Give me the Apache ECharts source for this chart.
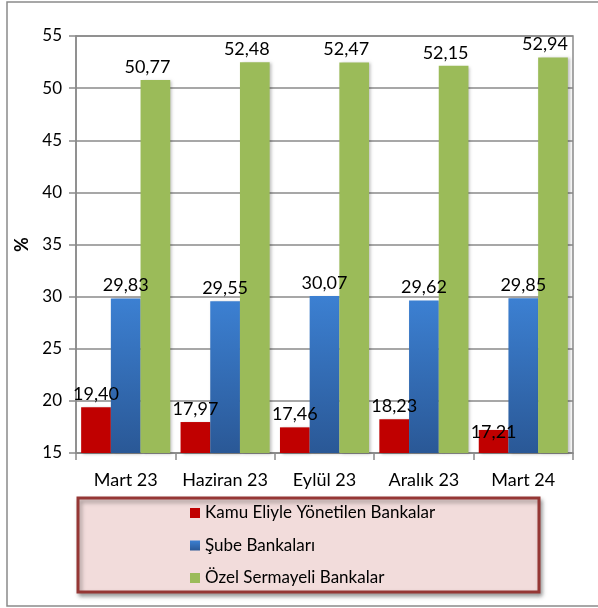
<!DOCTYPE html>
<html>
<head>
<meta charset="utf-8">
<script src="https://cdn.jsdelivr.net/npm/echarts@6/dist/echarts.min.js"></script>
<style>
  html, body { margin: 0; padding: 0; background: #fff; }
  #main { width: 598px; height: 608px; }
</style>
</head>
<body>
<div id="main"></div>
<script>
const categories = ['Mart 23', 'Haziran 23', 'Eylül 23', 'Aralık 23', 'Mart 24'];
const kamuValues = [19.40, 17.97, 17.46, 18.23, 17.21];
const subeValues = [29.83, 29.55, 30.07, 29.62, 29.85];
const ozelValues = [50.77, 52.48, 52.47, 52.15, 52.94];
const seriesNames = ['Kamu Eliyle Yönetilen Bankalar', 'Şube Bankaları', 'Özel Sermayeli Bankalar'];

const FONT = 'Lato';
const fmt = p => p.value.toFixed(2).replace('.', ',');

const chart = echarts.init(document.getElementById('main'));

const barShadow = {
    shadowBlur: 3,
    shadowColor: 'rgba(0,0,0,0.25)',
    shadowOffsetX: 2,
    shadowOffsetY: 1
};

const labelBase = {
    show: true,
    position: 'top',
    distance: 4,
    color: '#000',
    fontFamily: FONT,
    fontSize: 18,
    formatter: fmt
};

const option = {
    animation: false,
    graphic: [
        {
            type: 'rect',
            silent: true,
            shape: { x: 7, y: 2, width: 600, height: 604 },
            style: { fill: 'none', stroke: '#8a8a8a', lineWidth: 1.5 },
            z: 0
        },
        {
            type: 'rect',
            silent: true,
            shape: { x: 78, y: 498, width: 461, height: 94 },
            style: {
                fill: '#f2dcdb',
                stroke: '#953735',
                lineWidth: 3,
                shadowBlur: 4,
                shadowOffsetX: 2,
                shadowOffsetY: 3,
                shadowColor: 'rgba(0,0,0,0.35)'
            },
            z: 0
        }
    ],
    grid: {
        left: 76,
        right: 25,
        top: 36,
        bottom: 155,
        show: true,
        borderColor: '#8a8a8a',
        borderWidth: 1.5
    },
    legend: {
        orient: 'vertical',
        left: 185,
        top: 498,
        itemWidth: 10,
        itemHeight: 10,
        itemGap: 12.5,
        icon: 'rect',
        data: seriesNames,
        itemStyle: { shadowBlur: 0, shadowOffsetX: 0, shadowOffsetY: 0, shadowColor: 'transparent' },
        textStyle: { fontFamily: FONT, fontSize: 17, color: '#000', lineHeight: 20 },
        z: 5
    },
    xAxis: {
        type: 'category',
        data: categories,
        axisLine: { lineStyle: { color: '#8a8a8a', width: 1.5 } },
        axisTick: { show: true, length: 7, lineStyle: { color: '#8a8a8a', width: 1.5 } },
        axisLabel: { color: '#000', fontFamily: FONT, fontSize: 18, margin: 18, interval: 0 }
    },
    yAxis: {
        type: 'value',
        min: 15,
        max: 55,
        interval: 5,
        name: '%',
        nameLocation: 'middle',
        nameGap: 42,
        nameTextStyle: { color: '#000', fontFamily: FONT, fontSize: 18, fontWeight: 'bold' },
        axisLine: { show: true, lineStyle: { color: '#8a8a8a', width: 1.5 } },
        axisTick: { show: true, length: 7, lineStyle: { color: '#8a8a8a', width: 1.5 } },
        axisLabel: { color: '#000', fontFamily: FONT, fontSize: 17, margin: 14 },
        splitLine: { lineStyle: { color: '#8a8a8a', width: 1.5 } }
    },
    series: [
        {
            name: seriesNames[0],
            type: 'bar',
            barWidth: 29.7,
            barGap: '0%',
            data: kamuValues.map((v, i) => i === 4
                ? { value: v, label: { offset: [0, 15] } }
                : v),
            itemStyle: Object.assign({ color: '#c00000' }, barShadow),
            label: labelBase
        },
        {
            name: seriesNames[1],
            type: 'bar',
            barWidth: 29.7,
            barGap: '0%',
            data: subeValues,
            itemStyle: Object.assign({
                color: new echarts.graphic.LinearGradient(0, 0, 0, 1, [
                    { offset: 0, color: '#3c80d2' },
                    { offset: 1, color: '#2a5896' }
                ])
            }, barShadow),
            label: labelBase
        },
        {
            name: seriesNames[2],
            type: 'bar',
            barWidth: 29.7,
            barGap: '0%',
            data: ozelValues,
            itemStyle: Object.assign({ color: '#9bbb59' }, barShadow),
            label: Object.assign({}, labelBase, { offset: [-8, 0] })
        }
    ]
};

chart.setOption(option);
</script>
</body>
</html>
